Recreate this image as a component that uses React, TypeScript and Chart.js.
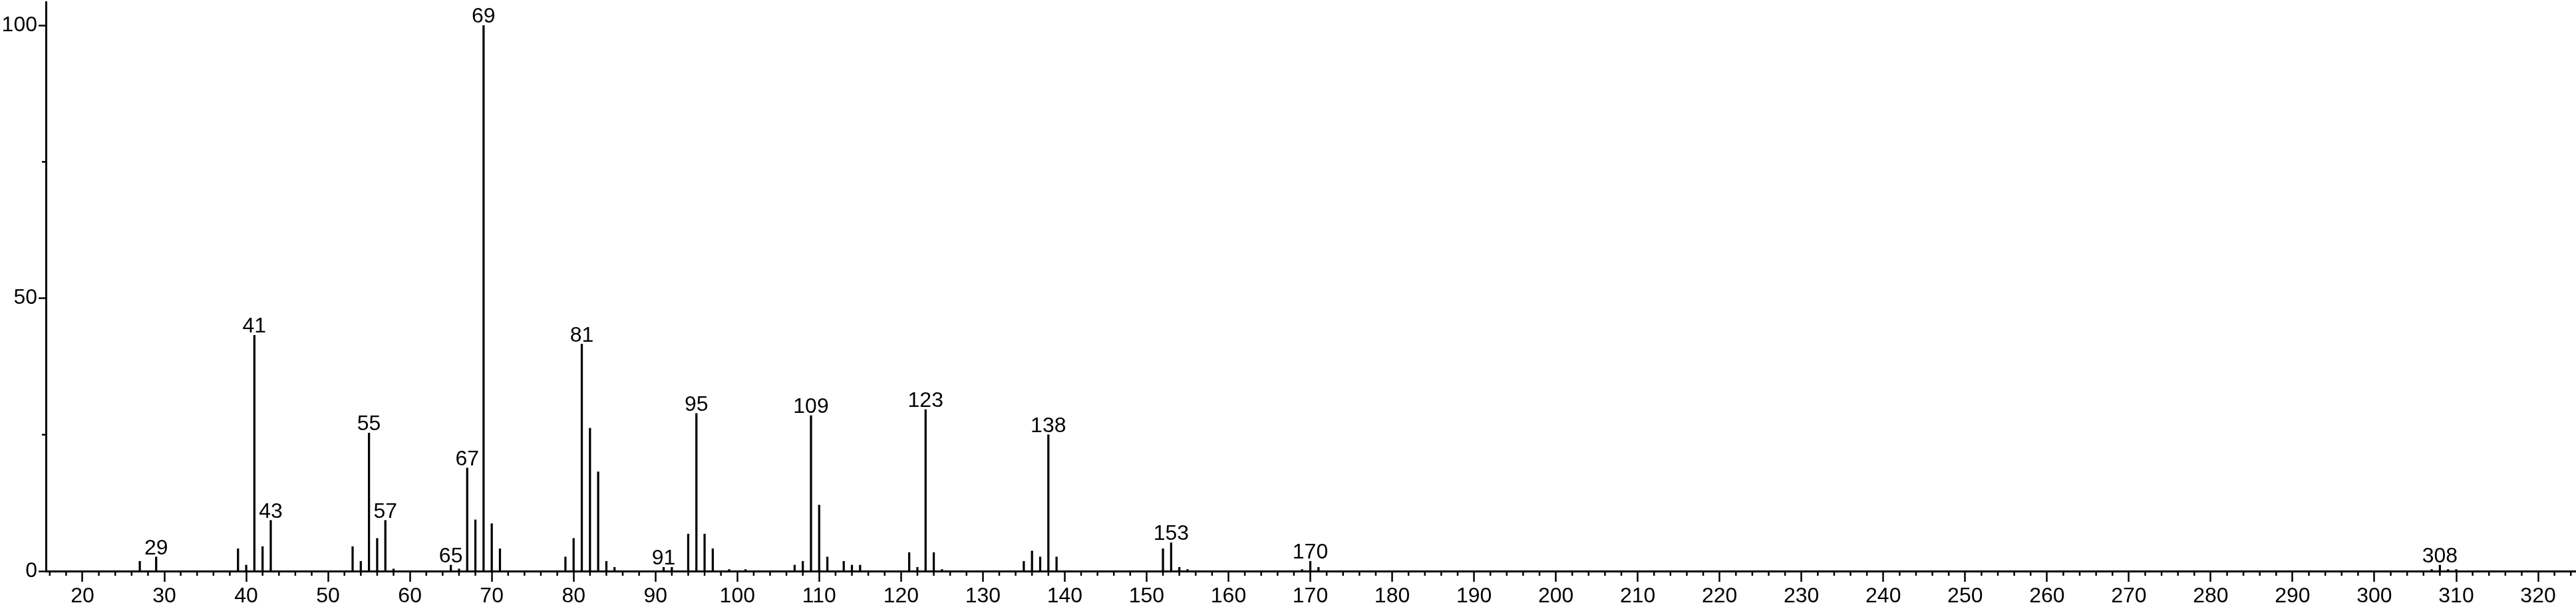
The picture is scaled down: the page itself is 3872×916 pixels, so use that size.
import React, { useEffect, useRef } from "react";
import { Chart, registerables } from "chart.js";

Chart.register(...registerables);

// m/z values of the spectrum peaks
const massToCharge = [
  27, 29, 39, 40, 41, 42, 43, 53, 54, 55, 56, 57, 58, 65, 66, 67, 68, 69, 70, 71,
  79, 80, 81, 82, 83, 84, 85, 91, 92, 94, 95, 96, 97, 99, 101, 107, 108, 109, 110,
  111, 113, 114, 115, 121, 122, 123, 124, 125, 135, 136, 137, 138, 139, 152, 153,
  154, 155, 169, 170, 171, 307, 308, 309, 310,
];

// relative intensities (%)
const intensity = [
  1.8, 2.6, 4.1, 1.1, 43.2, 4.5, 9.3, 4.5, 1.8, 25.3, 6.0, 9.3, 0.4, 1.1, 0.4, 18.9, 9.4, 100, 8.7, 4.1,
  2.6, 6.0, 41.6, 26.2, 18.2, 1.8, 0.7, 0.7, 0.7, 6.8, 28.9, 6.8, 4.1, 0.3, 0.3, 1.1, 1.8, 28.5, 12.1,
  2.6, 1.8, 1.1, 1.1, 3.4, 0.7, 29.6, 3.4, 0.3, 1.8, 3.7, 2.6, 25.0, 2.6, 4.1, 5.2,
  0.7, 0.3, 0.3, 1.8, 0.7, 0.3, 1.1, 0.3, 0.3,
];

// peaks annotated with their m/z
const labeledPeaks = [29, 41, 43, 55, 57, 65, 67, 69, 81, 91, 95, 109, 123, 138, 153, 170, 308];

// axis ticks
const xMajorTicks = [20, 30, 40, 50, 60, 70, 80, 90, 100, 110, 120, 130, 140, 150, 160, 170, 180, 190, 200, 210, 220, 230, 240, 250, 260, 270, 280, 290, 300, 310, 320];
const yMajorTicks = [0, 50, 100];
const yMinorTicks = [25, 75];

const X_MIN = 15.53;
const X_MAX = 324.63;
const Y_MAX = 104.3;

const FONT_FAMILY = '"Liberation Sans", Arial, Helvetica, sans-serif';

const decorPlugin = {
  id: "msDecor",
  afterDraw(chart: any) {
    const ctx = chart.ctx;
    const xs = chart.scales.x;
    const ys = chart.scales.y;
    ctx.save();
    ctx.strokeStyle = "#000";
    ctx.lineWidth = 2.5;
    // minor x ticks every 2 units
    for (let v = Math.ceil(X_MIN / 2) * 2; v <= X_MAX; v += 2) {
      if (v % 10 === 0) continue;
      const px = xs.getPixelForValue(v);
      ctx.beginPath();
      ctx.moveTo(px, ys.bottom);
      ctx.lineTo(px, ys.bottom + 7);
      ctx.stroke();
    }
    // minor y ticks
    yMinorTicks.forEach((v) => {
      const py = ys.getPixelForValue(v);
      ctx.beginPath();
      ctx.moveTo(xs.left - 6, py);
      ctx.lineTo(xs.left, py);
      ctx.stroke();
    });
    // peak labels
    ctx.fillStyle = "#000";
    ctx.font = `32px ${FONT_FAMILY}`;
    ctx.textAlign = "center";
    ctx.textBaseline = "alphabetic";
    labeledPeaks.forEach((m) => {
      const i = massToCharge.indexOf(m);
      if (i < 0) return;
      const px = xs.getPixelForValue(m);
      const py = ys.getPixelForValue(intensity[i]);
      ctx.fillText(String(m), px, py - 4);
    });
    ctx.restore();
  },
};

export default function App() {
  const canvasRef = useRef<HTMLCanvasElement | null>(null);

  useEffect(() => {
    const canvas = canvasRef.current;
    if (!canvas) return;
    const chart = new Chart(canvas, {
      type: "bar",
      data: {
        datasets: [
          {
            data: massToCharge.map((m, i) => ({ x: m, y: intensity[i] })),
            backgroundColor: "#000",
            borderWidth: 0,
            barThickness: 2.6,
            grouped: false,
          } as any,
        ],
      },
      options: {
        responsive: false,
        animation: false,
        devicePixelRatio: 1,
        layout: { padding: { top: 3, right: 0, bottom: 0, left: 0 } },
        plugins: {
          legend: { display: false },
          tooltip: { enabled: false },
          title: { display: false },
        },
        scales: {
          x: {
            type: "linear",
            min: X_MIN,
            max: X_MAX,
            offset: false,
            afterBuildTicks: (scale: any) => {
              scale.ticks = xMajorTicks.map((v) => ({ value: v }));
            },
            afterFit: (scale: any) => {
              scale.height = 57;
              scale.paddingLeft = 0;
              scale.paddingRight = 0;
              scale.paddingTop = 0;
              scale.paddingBottom = 0;
            },
            grid: {
              offset: false,
              drawOnChartArea: false,
              drawTicks: true,
              tickLength: 16,
              tickWidth: 2.5,
              tickColor: "#000",
            },
            border: { display: true, color: "#000", width: 3 },
            ticks: {
              autoSkip: false,
              maxRotation: 0,
              minRotation: 0,
              padding: 3,
              color: "#000",
              font: { family: FONT_FAMILY, size: 32 },
              callback: (v: any) => String(v),
            },
          },
          y: {
            type: "linear",
            min: 0,
            max: Y_MAX,
            afterBuildTicks: (scale: any) => {
              scale.ticks = yMajorTicks.map((v) => ({ value: v }));
            },
            afterFit: (scale: any) => {
              scale.width = 69;
              scale.paddingLeft = 0;
              scale.paddingRight = 0;
              scale.paddingTop = 0;
              scale.paddingBottom = 0;
            },
            grid: {
              drawOnChartArea: false,
              drawTicks: true,
              tickLength: 11,
              tickWidth: 2.5,
              tickColor: "#000",
            },
            border: { display: true, color: "#000", width: 3 },
            ticks: {
              padding: 2,
              color: "#000",
              font: { family: FONT_FAMILY, size: 32 },
              callback: (v: any) => String(v),
            },
          },
        },
      } as any,
      plugins: [decorPlugin],
    });
    return () => chart.destroy();
  }, []);

  return (
    <div style={{ position: "fixed", left: 0, top: 0, width: 3872, height: 916, background: "#fff" }}>
      <canvas ref={canvasRef} width={3872} height={916} style={{ display: "block", width: 3872, height: 916 }} />
    </div>
  );
}
